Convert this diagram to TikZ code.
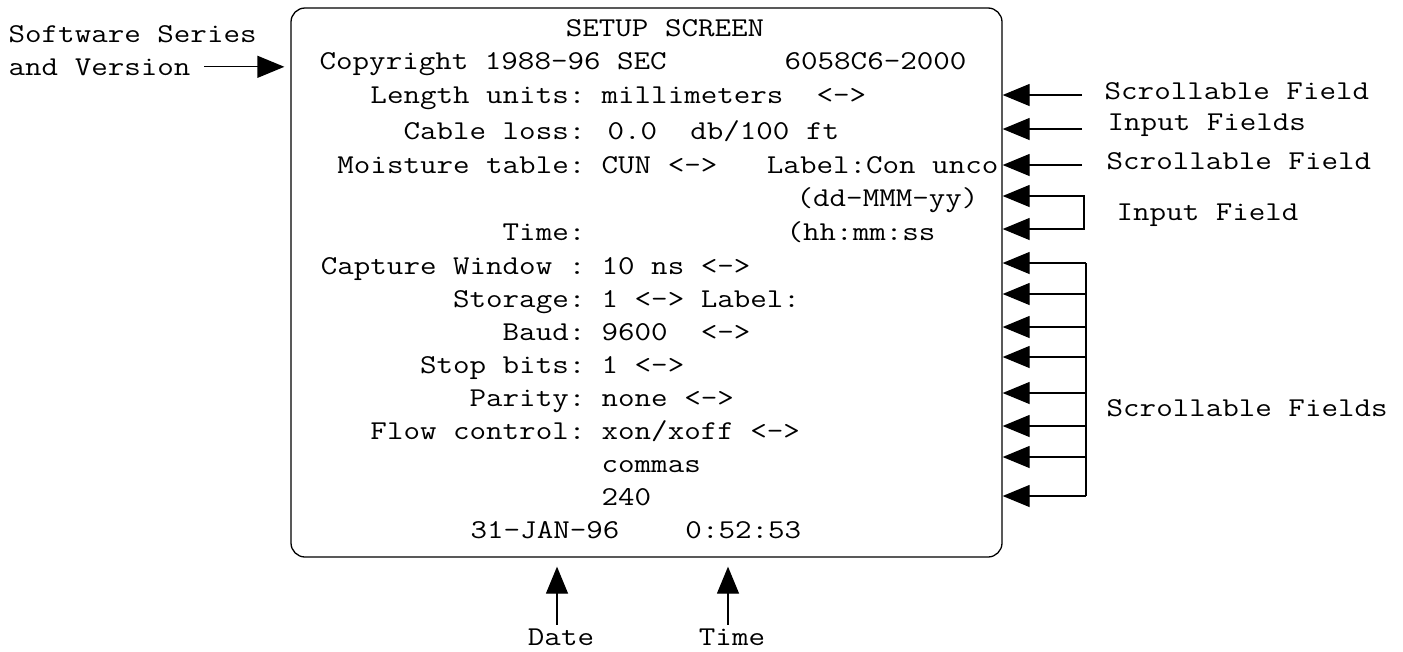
\documentclass[tikz,border=0pt]{standalone}
\usepackage{fontspec}
\newfontfamily\scrfont{Latin Modern Mono}[FakeStretch=1.18]
\usetikzlibrary{arrows.meta}

\begin{document}
\begin{tikzpicture}[x=1pt, y=-1pt, line width=1.3pt,
    txt/.style={font=\scrfont\fontsize{27.2}{33}\selectfont, inner sep=0pt},
    lbl/.style={txt, anchor=base east},
    val/.style={txt, anchor=base west},
    tip/.style={-{Triangle[length=27pt, width=22pt]}},
    tips/.style={{Triangle[length=27pt, width=22pt]}-{Triangle[length=27pt, width=22pt]}}]
  \useasboundingbox (0,0) rectangle (1403,651);
  \node[draw, rounded corners=14pt, minimum width=711pt, minimum height=549pt, inner sep=0pt] (scr) at (646.5,282.5) {};
  % screen text
  \node[txt, anchor=base] (title) at (665,36) {SETUP SCREEN};
  \node[val] (copy) at (319,69) {Copyright 1988-96 SEC};
  \node[val] (ver) at (784,69) {6058C6-2000};
  \node[lbl] (lenl) at (586,103) {Length units:};
  \node[val] (lenv) at (601,103) {millimeters\ \ <->};
  \node[lbl] (cabl) at (586,139) {Cable loss:};
  \node[val] (cabv) at (607,139) {0.0\ \ db/100 ft};
  \node[lbl] (moil) at (586,173) {Moisture table:};
  \node[val] (moiv) at (601,173) {CUN <->\ \ \ Label:Con unco};
  \node[val] (datef) at (796,206) {(dd-MMM-yy)};
  \node[lbl] (timel) at (586,240) {Time:};
  \node[val] (timef) at (786,240) {(hh:mm:ss};
  \node[lbl] (capl) at (586,274) {Capture Window :};
  \node[val] (capv) at (601,274) {10 ns <->};
  \node[lbl] (stol) at (586,307) {Storage:};
  \node[val] (stov) at (601,307) {1 <-> Label:};
  \node[lbl] (baul) at (586,340) {Baud:};
  \node[val] (bauv) at (601,340) {9600\ \ <->};
  \node[lbl] (bitl) at (586,373) {Stop bits:};
  \node[val] (bitv) at (601,373) {1 <->};
  \node[lbl] (parl) at (586,406) {Parity:};
  \node[val] (parv) at (601,406) {none <->};
  \node[lbl] (flol) at (586,439) {Flow control:};
  \node[val] (flov) at (601,439) {xon/xoff <->};
  \node[val] (sepv) at (601,472) {commas};
  \node[val] (numv) at (601,505) {240};
  \node[val] (clock) at (470,538) {31-JAN-96\ \ \ \ 0:52:53};
  % callouts
  \node[val] (sw1) at (8,42) {Software Series};
  \node[val] (sw2) at (8,75) {and Version};
  \node[val] (sfa) at (1104,99) {Scrollable Field};
  \node[val] (ifa) at (1107,130) {Input Fields};
  \node[val] (sfb) at (1106,169) {Scrollable Field};
  \node[val] (ifb) at (1116,220) {Input Field};
  \node[val] (sfc) at (1106,416) {Scrollable Fields};
  \node[txt, anchor=base] (date) at (561,645) {Date};
  \node[txt, anchor=base] (time) at (732,645) {Time};
  \draw[tip, shorten <=13pt, shorten >=6pt] (sw2.east) -- (sw2.east -| scr.west);
  \draw[tip, shorten <=3pt, shorten >=9pt] ([xshift=-4pt]date.north) -- ([xshift=-4pt]date.north |- scr.south);
  \draw[tip, shorten <=3pt, shorten >=9pt] ([xshift=-4pt]time.north) -- ([xshift=-4pt]time.north |- scr.south);
  \coordinate (sf1) at (1082,95);
  \coordinate (if1) at (1082,129);
  \coordinate (sf2) at (1082,165);
  \foreach \c in {sf1,if1,sf2}
    \draw[tip] (\c) -- (\c -| scr.east);
  \coordinate (if2a) at (1084,196);
  \coordinate (if2b) at (1084,229);
  \draw[tips] (if2a -| scr.east) -- (if2a) -- (if2b) -- (if2b -| scr.east);
  \coordinate (grptop) at (1086,263);
  \coordinate (grpbot) at (1086,496);
  \draw (grptop) -- (grpbot);
  \foreach \y in {263,294,327,357,393,426,457,496}
    \draw[tip] (grptop |- 0,\y) -- (scr.east |- 0,\y);
\end{tikzpicture}
\end{document}
